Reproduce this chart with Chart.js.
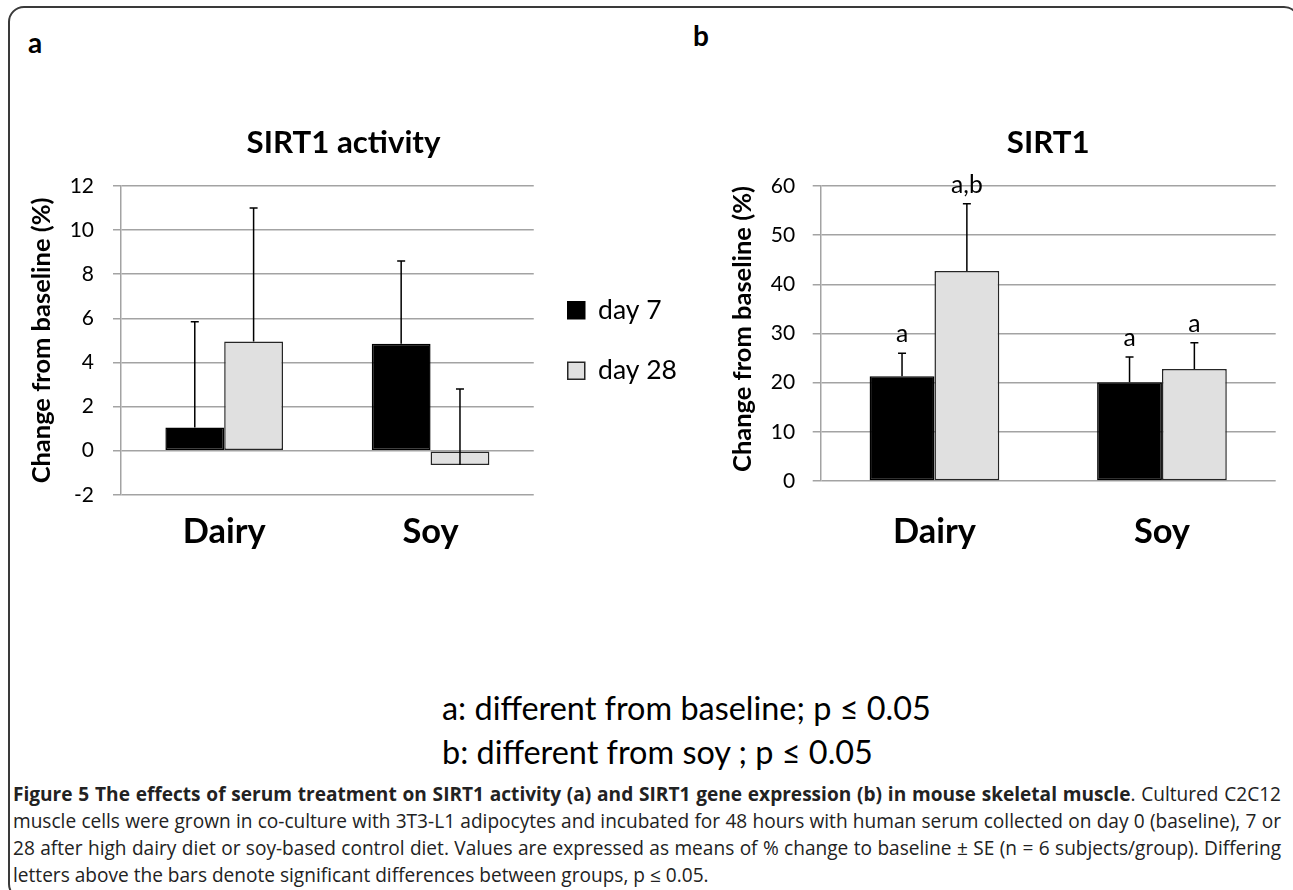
<!DOCTYPE html>
<html><head><meta charset="utf-8">
<script src="https://cdn.jsdelivr.net/npm/chart.js@4.4.1/dist/chart.umd.min.js"></script>
<style>
html,body{margin:0;padding:0;background:#fff;}
body{width:1293px;height:890px;position:relative;overflow:hidden;font-family:Lato,sans-serif;color:#000;}
#frame{position:absolute;left:8px;top:6px;width:1292px;height:894px;border:2px solid #3a3a3a;border-radius:16px;box-sizing:border-box;}
.pl{position:absolute;font-family:Lato,sans-serif;font-weight:bold;font-size:28px;line-height:28px;}
canvas{position:absolute;}
#foot{position:absolute;left:442px;font-family:Lato,sans-serif;white-space:nowrap;}
#cap{position:absolute;left:13px;width:1268px;font-family:"Open Sans",sans-serif;color:#222;}
#cap .ln{white-space:nowrap;}
#cap .j{text-align:justify;text-align-last:justify;}
.meas{position:absolute;visibility:hidden;white-space:nowrap;display:inline-block;}
</style></head>
<body>
<div id="frame"></div>
<div class="pl" id="la" style="left:28px;top:28px;">a</div>
<div class="pl" id="lb" style="left:693px;top:21px;">b</div>
<canvas id="ca"></canvas>
<canvas id="cb"></canvas>
<div id="foot">
  <div>a: different from baseline; p ≤ 0.05</div>
  <div>b: different from soy ; p ≤ 0.05</div>
</div>
<div id="cap">
  <div class="ln j"><b>Figure 5 The effects of serum treatment on SIRT1 activity (a) and SIRT1 gene expression (b) in mouse skeletal muscle</b>. Cultured C2C12</div>
  <div class="ln j">muscle cells were grown in co-culture with 3T3-L1 adipocytes and incubated for 48 hours with human serum collected on day 0 (baseline), 7 or</div>
  <div class="ln j">28 after high dairy diet or soy-based control diet. Values are expressed as means of % change to baseline ± SE (n = 6 subjects/group). Differing</div>
  <div class="ln">letters above the bars denote significant differences between groups, p ≤ 0.05.</div>
</div>
<script>
// ---------- data ----------
const categories = ['Dairy', 'Soy'];
const seriesNames = ['day 7', 'day 28'];

const activityDay7 = [1.05, 4.85];
const activityDay28 = [4.95, -0.65];
const activityErrDay7 = [4.8, 3.75];
const activityErrDay28 = [6.05, 3.45];
const activityTicks = [-2, 0, 2, 4, 6, 8, 10, 12];

const expressionDay7 = [21.3, 20.1];
const expressionDay28 = [42.7, 22.8];
const expressionErrDay7 = [4.7, 5.1];
const expressionErrDay28 = [13.7, 5.3];
const expressionSigDay7 = ['a', 'a'];
const expressionSigDay28 = ['a,b', 'a'];
const expressionTicks = [0, 10, 20, 30, 40, 50, 60];

// ---------- font fitting helpers ----------
const mctx = document.createElement('canvas').getContext('2d');
function textW(text, weight, size, family) {
  mctx.font = weight + ' ' + size + 'px ' + (family || 'Lato');
  return mctx.measureText(text).width;
}
function fitSize(text, weight, target, family) {
  return 100 * target / textW(text, weight, 100, family);
}
const titleSize = fitSize('SIRT1 activity', 'bold', 194);
const xSize = fitSize('Dairy', 'bold', 83);
const ySize = 21;
const yTitleSize = fitSize('Change from baseline (%)', 'bold', 286);
const legendSize = fitSize('day 28', 'normal', 79);
const annSize = fitSize('a,b', 'normal', 31.7);

// footnote
const footSize = fitSize('a: different from baseline; p ≤ 0.05', 'normal', 489);
const foot = document.getElementById('foot');
foot.style.fontSize = footSize + 'px';
foot.style.lineHeight = '44px';
foot.style.top = (712 - 0.13 * footSize - 22) + 'px';

// caption: common size so justified lines fit
(function () {
  const cap = document.getElementById('cap');
  const lines = cap.querySelectorAll('.ln');
  let best = 100;
  lines.forEach((ln, i) => {
    if (i > 2) return;
    const m = document.createElement('span');
    m.className = 'meas';
    m.style.fontFamily = '"Open Sans",sans-serif';
    m.style.fontSize = '20px';
    m.innerHTML = ln.innerHTML;
    document.body.appendChild(m);
    const w = m.getBoundingClientRect().width;
    best = Math.min(best, 20 * 1262 / w);
    m.remove();
  });
  cap.style.fontSize = best + 'px';
  cap.style.lineHeight = '26.9px';
  cap.style.top = (797 - 0.12 * best - 13.45) + 'px';
})();

// ---------- chart plugin: error bars + letters ----------
const errorBarPlugin = {
  id: 'errbars',
  afterDatasetsDraw(chart, args, opts) {
    const ctx = chart.ctx, y = chart.scales.y;
    ctx.save();
    chart.data.datasets.forEach((ds, i) => {
      const meta = chart.getDatasetMeta(i);
      meta.data.forEach((bar, j) => {
        const v = ds.data[j], e = opts.errors[i][j];
        const yTop = y.getPixelForValue(v + e), yBase = y.getPixelForValue(v);
        ctx.strokeStyle = '#000';
        ctx.lineWidth = 1.5;
        ctx.beginPath();
        ctx.moveTo(bar.x, yBase); ctx.lineTo(bar.x, yTop);
        ctx.moveTo(bar.x - 4, yTop); ctx.lineTo(bar.x + 4, yTop);
        ctx.stroke();
        if (opts.labels && opts.labels[i][j]) {
          ctx.fillStyle = '#000';
          ctx.font = 'normal ' + annSize + 'px Lato';
          ctx.textAlign = 'center';
          ctx.textBaseline = 'alphabetic';
          ctx.fillText(opts.labels[i][j], bar.x, yTop - 11);
        }
      });
    });
    ctx.restore();
  }
};

Chart.defaults.font.family = 'Lato, sans-serif';
Chart.defaults.color = '#000';

const GRID = '#a3a3a3';
const TOP = 100, CH = 460;

function barSets(d7, d28) {
  return [
    { label: seriesNames[0], data: d7, backgroundColor: '#000', borderColor: '#000', borderWidth: 1.5,
      borderSkipped: false, categoryPercentage: 0.57, barPercentage: 1 },
    { label: seriesNames[1], data: d28, backgroundColor: '#e0e0e0', borderColor: '#262626', borderWidth: 1.5,
      borderSkipped: false, categoryPercentage: 0.57, barPercentage: 1 }
  ];
}

// ---------- Chart A ----------
const legendPad = 34, legendBox = 17;
const lgTextW = Math.max(textW(seriesNames[0], 'normal', legendSize), textW(seriesNames[1], 'normal', legendSize));
const legendW = legendPad + legendBox + legendSize / 2 + lgTextW + 10;
const aW = Math.round(534 + legendW);
const ca = document.getElementById('ca');
ca.width = aW; ca.height = CH;
ca.style.left = '0px'; ca.style.top = TOP + 'px';
ca.style.width = aW + 'px'; ca.style.height = CH + 'px';

const aTitleTop = 143 - TOP - 0.6 * titleSize;
const aTitleBottom = (186 - TOP) - aTitleTop - 1.2 * titleSize;

new Chart(ca, {
  type: 'bar',
  data: { labels: categories, datasets: barSets(activityDay7, activityDay28) },
  plugins: [errorBarPlugin],
  options: {
    responsive: false, animation: false, devicePixelRatio: 1,
    layout: { padding: 0 },
    plugins: {
      title: { display: true, text: 'SIRT1 activity', color: '#000',
        font: { size: titleSize, weight: 'bold' }, padding: { top: aTitleTop, bottom: aTitleBottom } },
      legend: { display: true, position: 'right', align: 'center', fullSize: false,
        labels: { boxWidth: legendBox, boxHeight: legendBox, padding: legendPad, color: '#000',
          font: { size: legendSize } } },
      tooltip: { enabled: false },
      errbars: { errors: [activityErrDay7, activityErrDay28] }
    },
    scales: {
      x: {
        grid: { display: false, drawTicks: false }, border: { display: false },
        ticks: { color: '#000', font: { size: xSize, weight: 'bold' }, padding: 532 - 494.8 - 0.6 * xSize },
        afterFit(s) { s.height = CH - (494.8 - TOP); }
      },
      y: {
        min: activityTicks[0], max: activityTicks[activityTicks.length - 1],
        afterBuildTicks(s) { s.ticks = activityTicks.map(v => ({ value: v })); },
        ticks: { color: '#000', font: { size: ySize }, padding: 19 },
        grid: { color: GRID, lineWidth: 1.5, tickLength: 8 },
        border: { color: GRID, width: 1.5 },
        title: { display: true, text: 'Change from baseline (%)', color: '#000',
          font: { size: yTitleSize, weight: 'bold' }, padding: { top: 42 - 0.6 * yTitleSize, bottom: 0 } },
        afterFit(s) { s.width = 121; }
      }
    }
  }
});

// ---------- Chart B ----------
const bLeft = 680, bW = 613;
const cb = document.getElementById('cb');
cb.width = bW; cb.height = CH;
cb.style.left = bLeft + 'px'; cb.style.top = TOP + 'px';
cb.style.width = bW + 'px'; cb.style.height = CH + 'px';

new Chart(cb, {
  type: 'bar',
  data: { labels: categories, datasets: barSets(expressionDay7, expressionDay28) },
  plugins: [errorBarPlugin],
  options: {
    responsive: false, animation: false, devicePixelRatio: 1,
    layout: { padding: { left: 0, top: 0, bottom: 0, right: bLeft + bW - 1275.7 } },
    plugins: {
      title: { display: true, text: 'SIRT1', color: '#000', fullSize: false,
        font: { size: titleSize, weight: 'bold' }, padding: { top: aTitleTop, bottom: aTitleBottom } },
      legend: { display: false },
      tooltip: { enabled: false },
      errbars: { errors: [expressionErrDay7, expressionErrDay28], labels: [expressionSigDay7, expressionSigDay28] }
    },
    scales: {
      x: {
        grid: { display: false, drawTicks: false }, border: { display: false },
        ticks: { color: '#000', font: { size: xSize, weight: 'bold' }, padding: 532 - 481 - 0.6 * xSize },
        afterFit(s) { s.height = CH - (481 - TOP); }
      },
      y: {
        min: expressionTicks[0], max: expressionTicks[expressionTicks.length - 1],
        afterBuildTicks(s) { s.ticks = expressionTicks.map(v => ({ value: v })); },
        ticks: { color: '#000', font: { size: ySize }, padding: 17.5 },
        grid: { color: GRID, lineWidth: 1.5, tickLength: 8 },
        border: { color: GRID, width: 1.5 },
        title: { display: true, text: 'Change from baseline (%)', color: '#000', align: 'end',
          font: { size: yTitleSize, weight: 'bold' }, padding: { top: 742.5 - bLeft - 0.6 * yTitleSize, bottom: 0 } },
        afterFit(s) { s.width = 820.7 - bLeft; }
      }
    }
  }
});
</script>
</body></html>
